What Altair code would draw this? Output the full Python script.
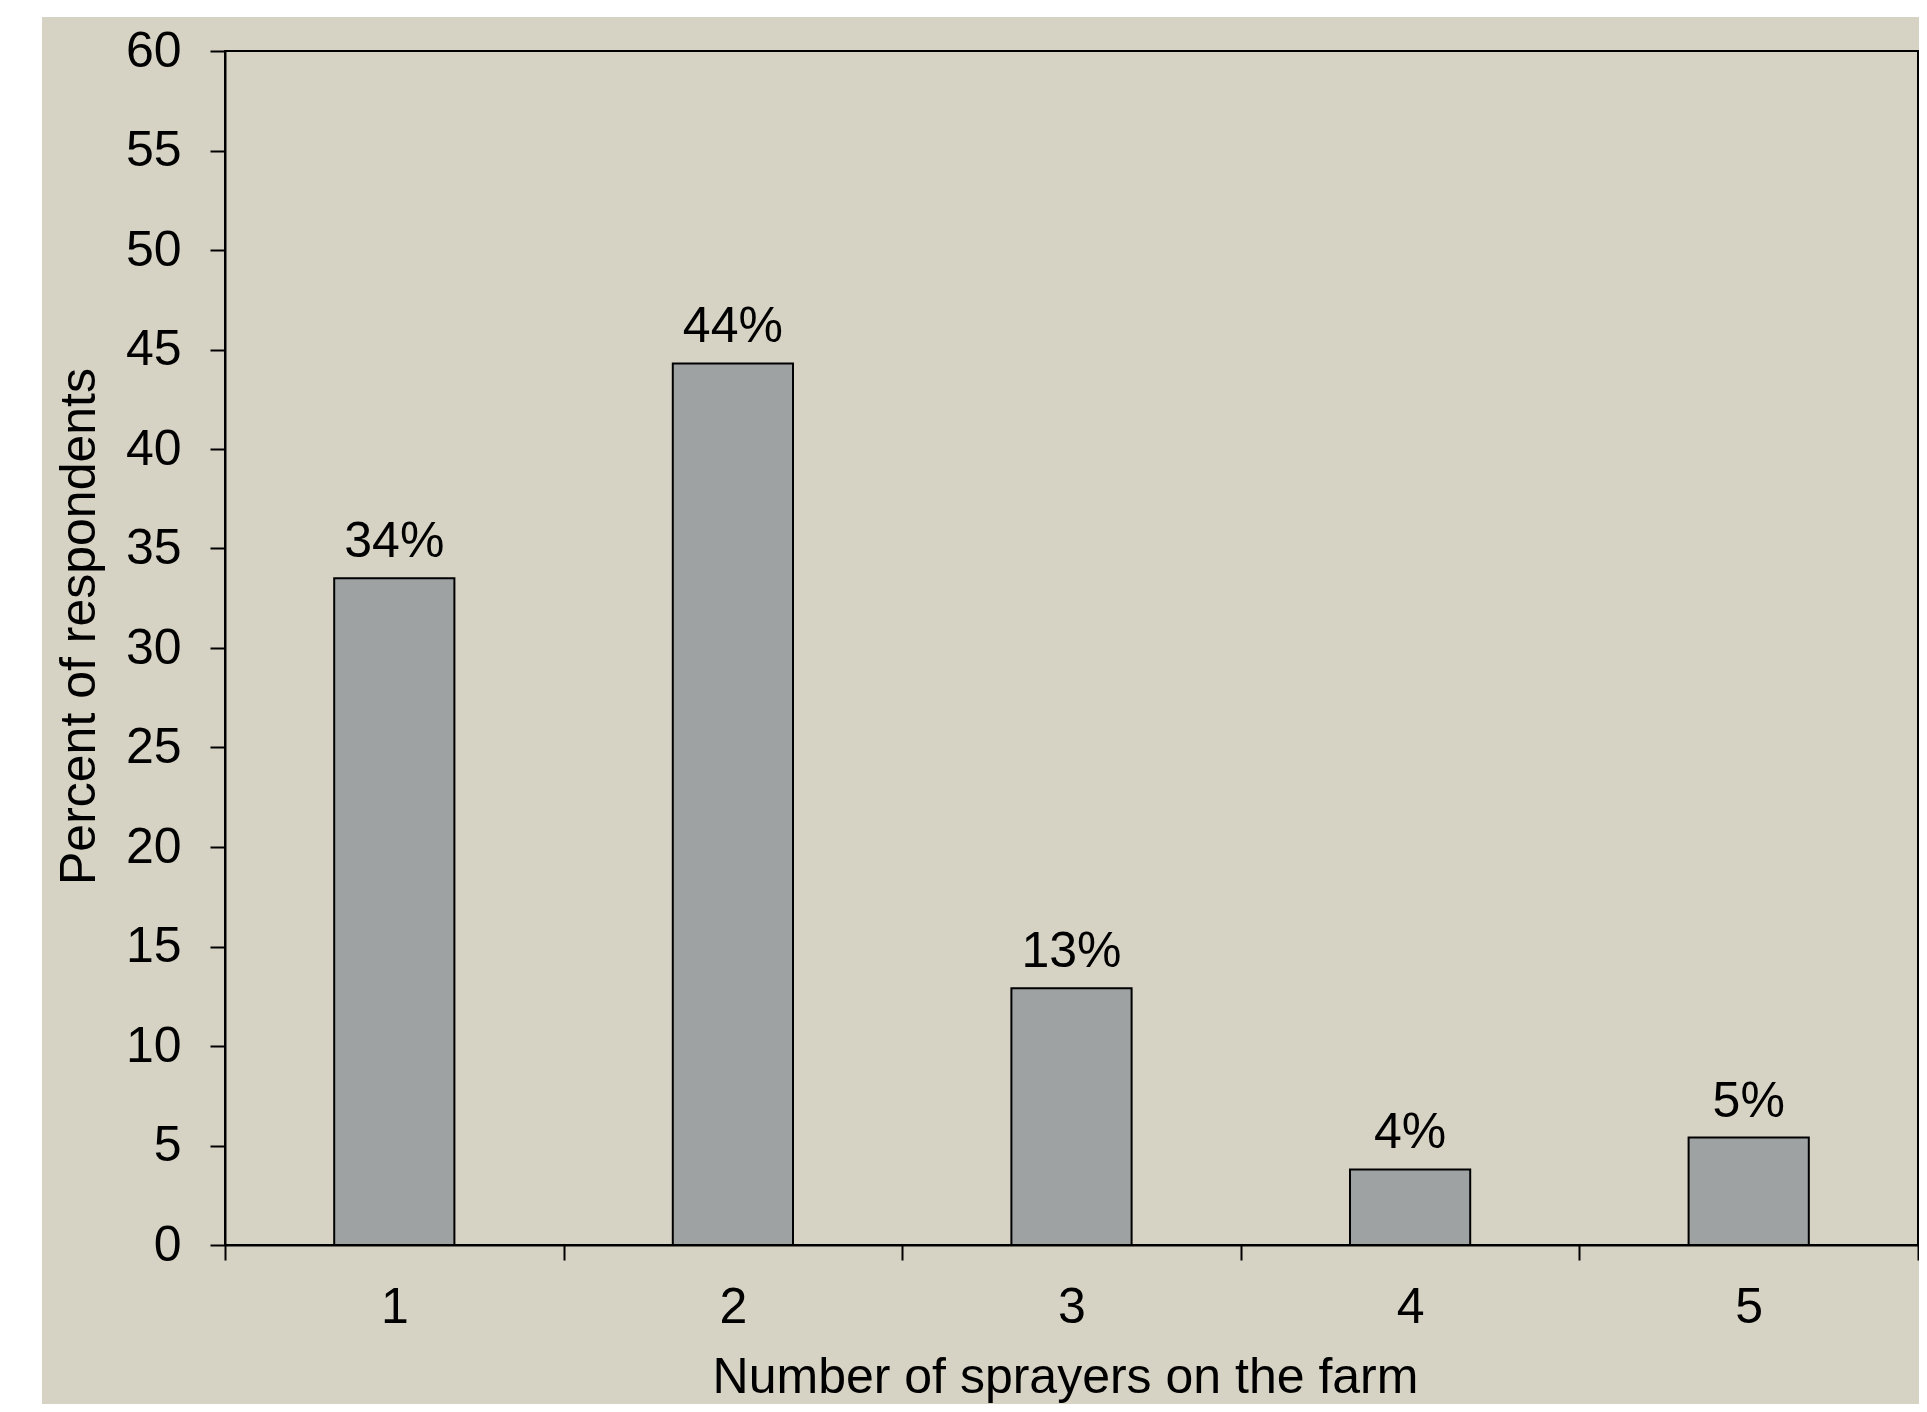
import altair as alt
import pandas as pd

categories = ["1", "2", "3", "4", "5"]
percent = [33.5, 44.3, 12.9, 3.8, 5.4]
labels = ["34%", "44%", "13%", "4%", "5%"]

df = pd.DataFrame({"sprayers": categories, "pct": percent, "label": labels})

FONT = "Liberation Sans"
BEIGE = "#D6D2C4"
BAR = "#9EA2A3"
W, H = 1693, 1194
LEFT = 217

x_enc = alt.X(
    "sprayers:N",
    sort=categories,
    scale=alt.Scale(paddingInner=0, paddingOuter=0),
    axis=alt.Axis(
        title="Number of sprayers on the farm",
        labelAngle=0,
        tickBand="extent",
        tickSize=15,
        tickWidth=2,
        tickColor="black",
        domainColor="black",
        domainWidth=2,
        labelFont=FONT,
        labelFontSize=50,
        labelColor="black",
        labelPadding=22,
        titleFont=FONT,
        titleFontSize=50,
        titleFontWeight="normal",
        titleColor="black",
        titleX=840,
        titleY=147,
        titleBaseline="alphabetic",
        titleAnchor="middle",
        titleAlign="center",
        zindex=1,
    ),
)
y_enc = alt.Y(
    "pct:Q",
    scale=alt.Scale(domain=[0, 60], nice=False),
    axis=alt.Axis(
        title="Percent of respondents",
        values=list(range(0, 61, 5)),
        grid=False,
        tickSize=15,
        tickWidth=2,
        tickColor="black",
        domainColor="black",
        domainWidth=2,
        labelFont=FONT,
        labelFontSize=50,
        labelColor="black",
        labelPadding=29,
        labelBaseline="middle",
        titleFont=FONT,
        titleFontSize=50,
        titleFontWeight="normal",
        titleColor="black",
        titleAngle=-90,
        titleX=-131,
        titleY=575,
        titleBaseline="alphabetic",
        titleAlign="center",
        zindex=1,
    ),
)

base = alt.Chart(df)

bars = base.mark_bar(
    width=alt.RelativeBandSize(0.355),
    fill=BAR,
    stroke="black",
    strokeWidth=2,
).encode(x=x_enc, y=y_enc)

text = base.mark_text(
    font=FONT, fontSize=50, color="black", baseline="alphabetic", dy=-21
).encode(x=alt.X("sprayers:N", sort=categories), y="pct:Q", text="label:N")

one = alt.Data(values=[{"k": 0}])
white_left = alt.Chart(one).mark_rect(fill="white").encode(
    x=alt.value(-LEFT - 10), x2=alt.value(-LEFT + 34), y=alt.value(-60), y2=alt.value(H + 200)
)
white_top = alt.Chart(one).mark_rect(fill="white").encode(
    x=alt.value(-LEFT - 10), x2=alt.value(W + 20), y=alt.value(-60), y2=alt.value(-34)
)

chart = alt.layer(bars, text, white_left, white_top).properties(
    width=W,
    height=H,
    background=BEIGE,
    autosize=alt.AutoSizeParams(type="none"),
    padding={"left": LEFT, "top": 43, "right": 1, "bottom": 159},
).configure_view(
    stroke="black", strokeWidth=2
)

chart.save("out.html", embed_options={"renderer": "svg", "actions": False})
